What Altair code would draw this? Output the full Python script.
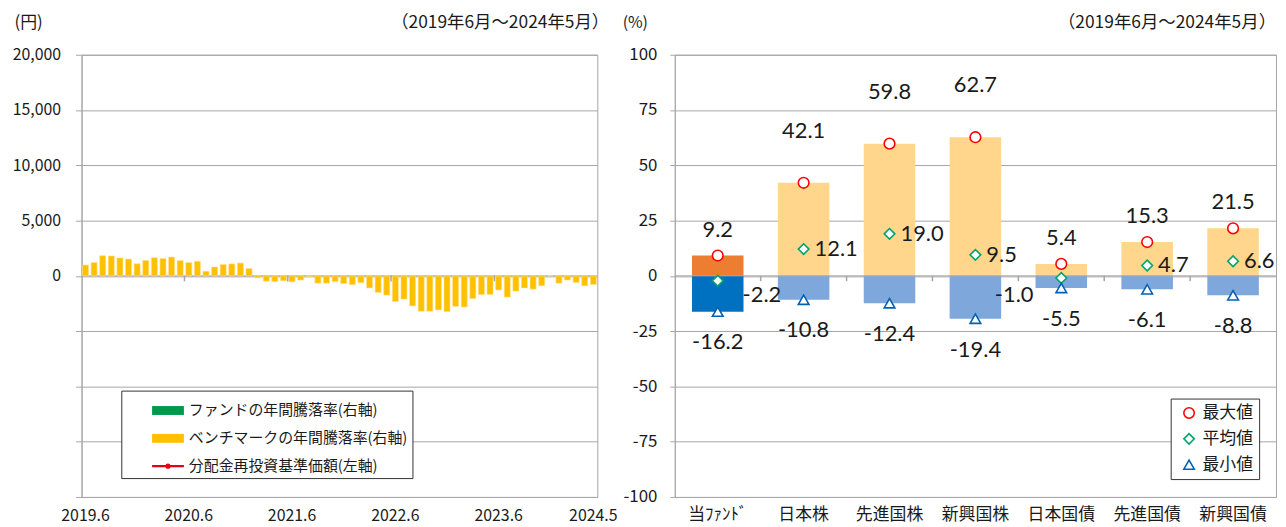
import altair as alt
import pandas as pd

# ---------------- data ----------------
MONTHS = []
for yy in range(2019, 2025):
    for mm in range(1, 13):
        if (yy == 2019 and mm < 6) or (yy == 2024 and mm > 5):
            continue
        MONTHS.append(f"{yy}.{mm}")

BENCH = [4.9, 6.0, 9.1, 9.0, 8.1, 7.6, 5.5, 6.9, 8.2, 7.8,
         8.5, 6.9, 6.0, 6.6, 2.1, 4.0, 5.1, 5.4, 5.8, 3.3,
         -0.9, -2.4, -2.6, -2.2, -2.7, -1.9, -0.4, -3.3, -3.3, -2.6,
         -3.5, -4.0, -3.1, -5.5, -7.5, -8.7, -11.6, -10.5, -13.6, -16.0,
         -16.0, -15.4, -16.2, -13.8, -14.1, -10.3, -8.5, -8.4, -6.4, -9.6,
         -6.9, -5.5, -6.0, -4.5, 0.0, -3.3, -1.9, -3.0, -4.5, -3.9]

X_LABELS = ["2019.6", "2020.6", "2021.6", "2022.6", "2023.6", "2024.5"]
YEAR_TICKS = ["2020.6", "2021.6", "2022.6", "2023.6"]
LEGEND_L = ["ファンドの年間騰落率(右軸)", "ベンチマークの年間騰落率(右軸)", "分配金再投資基準価額(左軸)"]

CATS = ["当ﾌｧﾝﾄﾞ", "日本株", "先進国株", "新興国株", "日本国債", "先進国債", "新興国債"]
MAX_V = [9.2, 42.1, 59.8, 62.7, 5.4, 15.3, 21.5]
AVG_V = [-2.2, 12.1, 19.0, 9.5, -1.0, 4.7, 6.6]
MIN_V = [-16.2, -10.8, -12.4, -19.4, -5.5, -6.1, -8.8]
STATS = ["最大値", "平均値", "最小値"]
PERIOD = "（2019年6月～2024年5月）"

# ---------------- style ----------------
FONT = "Noto Sans CJK JP"
NUMFONT = "Lato"
GRID = "#A6A6A6"
TXT = "#1a1a1a"
RECT_PATH = "M-1,-0.28H1V0.28H-1Z"
LINE_PATH = ("M-1,-0.07H1V0.07H-1Z M0.17,0A0.17,0.17,0,1,1,-0.17,0"
             "A0.17,0.17,0,1,1,0.17,0Z")
MINUS_FIX = "replace(datum.label, '\u2212', '-')"
W_L, W_R, H = 519, 605, 445
GAP = 78
PAD_L, PAD_T = 74, 44
PI_L, PO_L = 0.3, 0.11
PI_R, PO_R = 0.4, 0.2


def header(width_px, dx):
    return alt.Chart(pd.DataFrame({"t": [PERIOD]})).mark_text(
        align="right", baseline="middle", fontSize=17.5, font=FONT, color=TXT
    ).encode(x=alt.value(width_px + dx), y=alt.value(-32), text="t:N")


# ---------------- left chart ----------------
bench_df = pd.DataFrame({"month": MONTHS, "value": BENCH, "series": LEGEND_L[1]})
legend_df = pd.DataFrame({"series": LEGEND_L, "month": [MONTHS[0]] * 3, "v": [0, 0, 0]})
step_l = W_L / (len(MONTHS) - PI_L + 2 * PO_L)

x_l = alt.X("month:O", sort=MONTHS,
            scale=alt.Scale(paddingInner=PI_L, paddingOuter=PO_L),
            axis=alt.Axis(values=X_LABELS, ticks=False, domain=False, labelAngle=0,
                          labelPadding=11, labelFontSize=16, labelFont=FONT,
                          labelColor=TXT, title=None, grid=False))

color_l = alt.Color("series:N",
                    scale=alt.Scale(domain=LEGEND_L, range=["#00994C", "#FFC000", "#E60012"]),
                    legend=alt.Legend(orient="none", legendX=40, legendY=338, title=None,
                                      strokeColor="#333333", fillColor="white", padding=4,
                                      symbolOffset=27, symbolSize=1024, symbolStrokeWidth=0,
                                      symbolOpacity=1, labelOffset=5, rowPadding=4,
                                      labelFontSize=15, labelFont=FONT, labelColor=TXT,
                                      labelLimit=400))

bars_l = alt.Chart(bench_df).mark_bar(stroke="#FFE08A", strokeWidth=0.6).encode(
    x=x_l,
    y=alt.Y("value:Q", scale=alt.Scale(domain=[-100, 100]), axis=None),
    color=color_l,
)

legend_pts = alt.Chart(legend_df).mark_point(opacity=0, filled=True).encode(
    x=alt.X("month:O", sort=MONTHS),
    y=alt.Y("v:Q", axis=None),
    color=alt.Color("series:N"),
    shape=alt.Shape("series:N",
                    scale=alt.Scale(domain=LEGEND_L, range=[RECT_PATH, RECT_PATH, LINE_PATH]),
                    legend=alt.Legend(title=None)),
)

year_ticks = alt.Chart(pd.DataFrame({"month": YEAR_TICKS})).mark_rule(
    color=GRID, strokeWidth=1.5, xOffset=-PI_L * step_l / 2
).encode(
    x=alt.X("month:O", sort=MONTHS, bandPosition=0),
    y=alt.datum(0, scale=alt.Scale(domain=[-20000, 20000]), axis=None),
    y2=alt.datum(-500),
)

zero_l = alt.Chart(pd.DataFrame({"yen": [0]})).mark_rule(color=GRID, strokeWidth=1).encode(
    y=alt.Y("yen:Q", scale=alt.Scale(domain=[-20000, 20000]),
            axis=alt.Axis(values=list(range(-20000, 20001, 5000)),
                          labelExpr="datum.value >= 0 ? format(datum.value, ',') : ''",
                          labelFontSize=16, labelFont=FONT, labelColor=TXT,
                          tickSize=6, tickColor=GRID, labelPadding=15,
                          domainColor=GRID, gridColor=GRID,
                          title="(円)", titleAngle=0, titleX=-68, titleY=-32,
                          titleAlign="left", titleBaseline="middle",
                          titleFontSize=17, titleFont=FONT, titleFontWeight="normal",
                          titleColor=TXT))
)

left = alt.layer(zero_l, bars_l, year_ticks, legend_pts, header(W_L, 12)).resolve_scale(
    y="independent").properties(width=W_L, height=H)

# ---------------- right chart ----------------
cat_df = pd.DataFrame({"cat": CATS, "max_v": MAX_V, "avg_v": AVG_V, "min_v": MIN_V})
rows = []
for c, a, b, d in zip(CATS, MAX_V, AVG_V, MIN_V):
    for s, v in zip(STATS, [a, b, d]):
        rows.append({"cat": c, "stat": s, "value": v})
stat_df = pd.DataFrame(rows)
step_r = W_R / (len(CATS) - PI_R + 2 * PO_R)

x_r = alt.X("cat:N", sort=CATS,
            scale=alt.Scale(paddingInner=PI_R, paddingOuter=PO_R),
            axis=alt.Axis(ticks=False, domain=False, labelAngle=0, labelPadding=10,
                          labelFontSize=17, labelFont=FONT, labelColor=TXT,
                          title=None, grid=False))
y_r = alt.Y("max_v:Q", scale=alt.Scale(domain=[-100, 100]),
            axis=alt.Axis(values=list(range(-100, 101, 25)), labelFontSize=17,
                          labelFont=FONT, labelColor=TXT, tickSize=5, tickColor=GRID,
                          labelPadding=13, domainColor=GRID, gridColor=GRID,
                          labelExpr=MINUS_FIX,
                          title="(%)", titleAngle=0, titleX=-53, titleY=-32,
                          titleAlign="left", titleBaseline="middle", titleFontSize=16,
                          titleFont=FONT, titleFontWeight="normal", titleColor=TXT))

is_fund = alt.datum.cat == CATS[0]
base_r = alt.Chart(cat_df).transform_calculate(
    max_t="replace(format(datum.max_v, '.1f'), '\u2212', '-')",
    avg_t="replace(format(datum.avg_v, '.1f'), '\u2212', '-')",
    min_t="replace(format(datum.min_v, '.1f'), '\u2212', '-')",
)
pos_bars = base_r.mark_bar().encode(
    x=x_r, y=y_r, y2=alt.datum(0),
    color=alt.condition(is_fund, alt.value("#ED7D31"), alt.value("#FFD68C")),
)
neg_bars = base_r.mark_bar().encode(
    x=alt.X("cat:N", sort=CATS), y=alt.Y("min_v:Q"), y2=alt.datum(0),
    color=alt.condition(is_fund, alt.value("#0070C0"), alt.value("#7EA7DB")),
)
zero_r = alt.Chart(pd.DataFrame({"z": [0]})).mark_rule(color=GRID, strokeWidth=1).encode(
    y=alt.Y("z:Q"))
cat_ticks = alt.Chart(pd.DataFrame({"cat": CATS[1:]})).mark_rule(
    color=GRID, strokeWidth=1.5, xOffset=-PI_R * step_r / 2
).encode(
    x=alt.X("cat:N", sort=CATS, bandPosition=0),
    y=alt.datum(0), y2=alt.datum(-2.4),
)

markers = alt.Chart(stat_df).mark_point(filled=False, fill="white", fillOpacity=1,
                                         strokeWidth=1.6, size=115, opacity=1).encode(
    x=alt.X("cat:N", sort=CATS),
    y=alt.Y("value:Q"),
    color=alt.Color("stat:N", scale=alt.Scale(domain=STATS,
                                              range=["#FF0000", "#00A36C", "#0060B6"]),
                    legend=alt.Legend(orient="none", legendX=499, legendY=346, title=None,
                                      strokeColor="#333333", fillColor="white", padding=6,
                                      symbolOffset=4, symbolSize=110, symbolStrokeWidth=1.6,
                                      symbolFillColor="white", labelOffset=5, rowPadding=8,
                                      labelFontSize=17, labelFont=FONT, labelColor=TXT)),
    shape=alt.Shape("stat:N", scale=alt.Scale(domain=STATS,
                                              range=["circle", "diamond", "triangle-up"]),
                    legend=alt.Legend(title=None)),
)


def num_text(**kw):
    return dict(font=NUMFONT, fontSize=22, color=TXT, baseline="middle", **kw)


X_R = alt.X("cat:N", sort=CATS)
max_hi = base_r.transform_filter(alt.datum.max_v > 30).mark_text(**num_text(dy=-52)).encode(
    x=X_R, y=alt.Y("max_v:Q"), text="max_t:N")
max_lo = base_r.transform_filter(alt.datum.max_v <= 30).mark_text(**num_text(dy=-26)).encode(
    x=X_R, y=alt.Y("max_v:Q"), text="max_t:N")
avg_main = base_r.transform_filter(
    (alt.datum.cat != CATS[0]) & (alt.datum.cat != CATS[4])
).mark_text(**num_text(dx=11, align="left")).encode(
    x=X_R, y=alt.Y("avg_v:Q"), text="avg_t:N")
avg_fund = base_r.transform_filter(alt.datum.cat == CATS[0]).mark_text(
    **num_text(dx=25, dy=14, align="left")).encode(
    x=X_R, y=alt.Y("avg_v:Q"), text="avg_t:N")
avg_jgb = base_r.transform_filter(alt.datum.cat == CATS[4]).mark_text(
    **num_text(dx=-28, dy=17, align="right")).encode(
    x=X_R, y=alt.Y("avg_v:Q"), text="avg_t:N")
min_lbl = base_r.mark_text(**num_text(dy=31)).encode(
    x=X_R, y=alt.Y("min_v:Q"), text="min_t:N")

right = alt.layer(pos_bars, neg_bars, zero_r, cat_ticks, markers, max_hi, max_lo,
                  avg_main, avg_fund, avg_jgb, min_lbl, header(W_R, 0)).properties(
    width=W_R, height=H)

TOTAL_W, TOTAL_H = 1278, 519
chart = alt.hconcat(left, right, spacing=GAP, bounds="flush").resolve_scale(
    color="independent", shape="independent"
).properties(
    autosize=alt.AutoSizeParams(type="none"),
    padding={"left": PAD_L, "top": PAD_T,
             "right": TOTAL_W - PAD_L, "bottom": TOTAL_H - PAD_T},
).configure(font=FONT).configure_view(stroke=GRID, strokeWidth=1)

chart.save("out.html", embed_options={"renderer": "svg", "actions": False})
